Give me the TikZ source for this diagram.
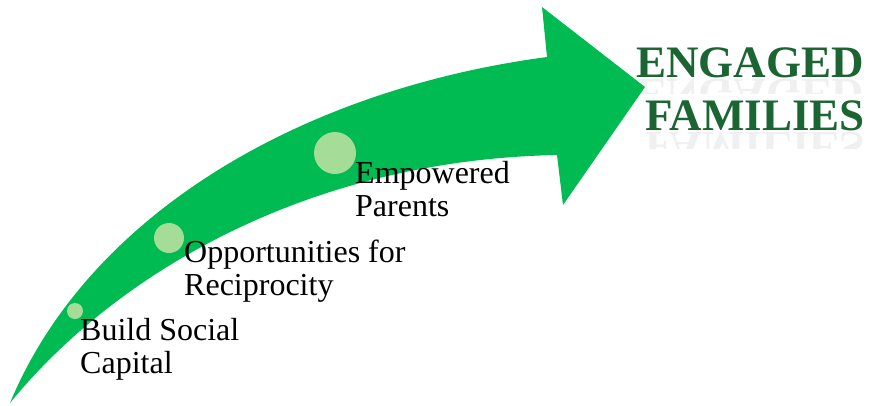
\documentclass[tikz,border=0pt]{standalone}
\usepackage{fontspec}
\setmainfont{Liberation Serif}
\definecolor{arrowgreen}{HTML}{00BA52}
\definecolor{dotgreen}{HTML}{A5DC97}
\definecolor{titlegreen}{HTML}{1B6532}
\tikzset{
  label/.style={anchor=base west, align=left, inner sep=0pt, font=\fontsize{32}{33}\selectfont, text=black},
  dot/.style={circle, fill=dotgreen, inner sep=0pt},
  title/.style={anchor=base, inner sep=0pt, font=\fontsize{45}{53}\selectfont\bfseries, text=titlegreen},
  mirror/.style={title, yscale=-1, text=gray, text opacity=0.12}
}
\begin{document}
\begin{tikzpicture}[x=1pt, y=-1pt]
\useasboundingbox (0,0) rectangle (875,405);
\fill[arrowgreen]
  (10,403) .. controls (88,215) and (300,90) .. (547,57)
  -- (542,7) -- (645,87) -- (563,205) -- (557,155)
  .. controls (300,160) and (110,280) .. (10,403)
  -- cycle;
\node[dot, minimum size=16pt] (d1) at (75,311) {};
\node[dot, minimum size=30pt] (d2) at (169,238) {};
\node[dot, minimum size=42pt] (d3) at (335,153) {};
\node[label] (l1) at (80,373) {Build Social\\Capital};
\node[label] (l2) at (184,295) {Opportunities for\\Reciprocity};
\node[label] (l3) at (355,216) {Empowered\\Parents};
\begin{scope}
  \clip (620,79) rectangle (875,93);
  \node[mirror] (r1) at (750,79) {ENGAGED};
\end{scope}
\begin{scope}
  \clip (620,132) rectangle (875,148);
  \node[mirror] (r2) at (755,132) {FAMILIES};
\end{scope}
\node[title] (t1) at (750,77) {ENGAGED};
\node[title] (t2) at (755,130) {FAMILIES};
\end{tikzpicture}
\end{document}
